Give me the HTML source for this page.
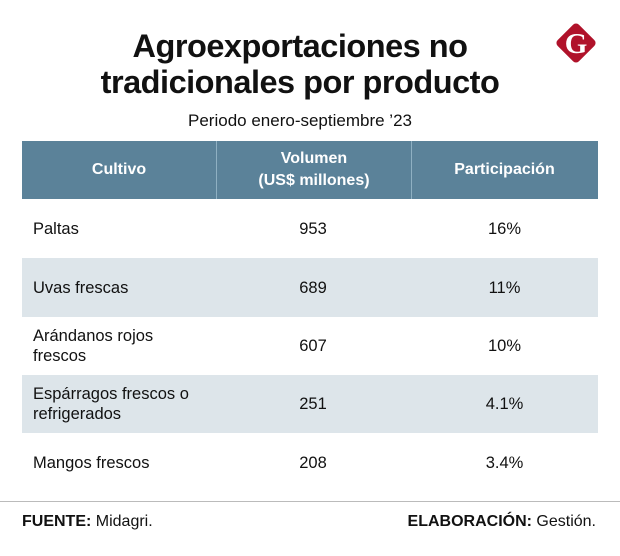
<!DOCTYPE html>
<html><head><meta charset="utf-8"><style>
body{margin:0;width:620px;height:556px;background:#fff;font-family:"Liberation Sans",sans-serif;color:#111;position:relative;overflow:hidden}
.a{position:absolute}
.title{left:0;width:600px;top:28px;text-align:center;font-weight:bold;font-size:32.5px;line-height:36px;letter-spacing:-0.5px}
.sub{left:0;width:600px;top:111px;text-align:center;font-size:17px}
.hdr{left:22px;top:141px;width:576px;height:58px;background:#5b8299}
.hc{position:absolute;top:0;height:58px;display:flex;align-items:center;justify-content:center;text-align:center;color:#fff;font-weight:bold;font-size:16px;line-height:22px}
.row{left:22px;width:576px;height:58px}
.c{position:absolute;top:0;height:100%;display:flex;align-items:center;font-size:16.5px;line-height:20px}
</style></head><body>
<div class="a title">Agroexportaciones no<br>tradicionales por producto</div>
<div class="a sub">Periodo enero-septiembre ’23</div>
<svg class="a" style="left:552px;top:19px" width="48" height="48"><rect x="9" y="9" width="30" height="30" rx="4" fill="#b0122a" transform="rotate(45 24 24)"/><text x="24" y="34" text-anchor="middle" font-family="Liberation Serif" font-weight="bold" font-size="29" fill="#fff">G</text></svg>
<div class="a hdr">
<div class="hc" style="left:0;width:194px">Cultivo</div>
<div class="hc" style="left:194px;width:194px;border-left:1px solid #8fb0c2;border-right:1px solid #8fb0c2">Volumen<br>(US$ millones)</div>
<div class="hc" style="left:389px;width:187px">Participación</div>
</div>
<div id="rows"></div>
<div class="a" style="left:0;top:501px;width:620px;height:1px;background:#bbb"></div>
<div class="a" style="left:22px;top:513px;font-size:16px"><b>FUENTE:</b> Midagri.</div>
<div class="a" style="right:24px;top:513px;font-size:16px"><b>ELABORACIÓN:</b> Gestión.</div>
<script>
const crops=["Paltas","Uvas frescas","Arándanos rojos<br>frescos","Espárragos frescos o<br>refrigerados","Mangos frescos"];
const volumes=[953,689,607,251,208];
const shares=["16%","11%","10%","4.1%","3.4%"];
const tops=[199,258,317,375,433],hs=[59,59,58,58,59];
const host=document.getElementById('rows');
crops.forEach((c,i)=>{
 const r=document.createElement('div');
 r.className='a row';
 
 
 r.style.top=tops[i]+'px';r.style.height=hs[i]+'px';
 r.style.background=i%2?'#dde5ea':'#fff';
 r.innerHTML='<div class="c" style="left:11px">'+c+'</div>'+
 '<div class="c" style="left:194px;width:194px;justify-content:center">'+volumes[i]+'</div>'+
 '<div class="c" style="left:389px;width:187px;justify-content:center">'+shares[i]+'</div>';
 host.appendChild(r);
});
</script>
</body></html>
